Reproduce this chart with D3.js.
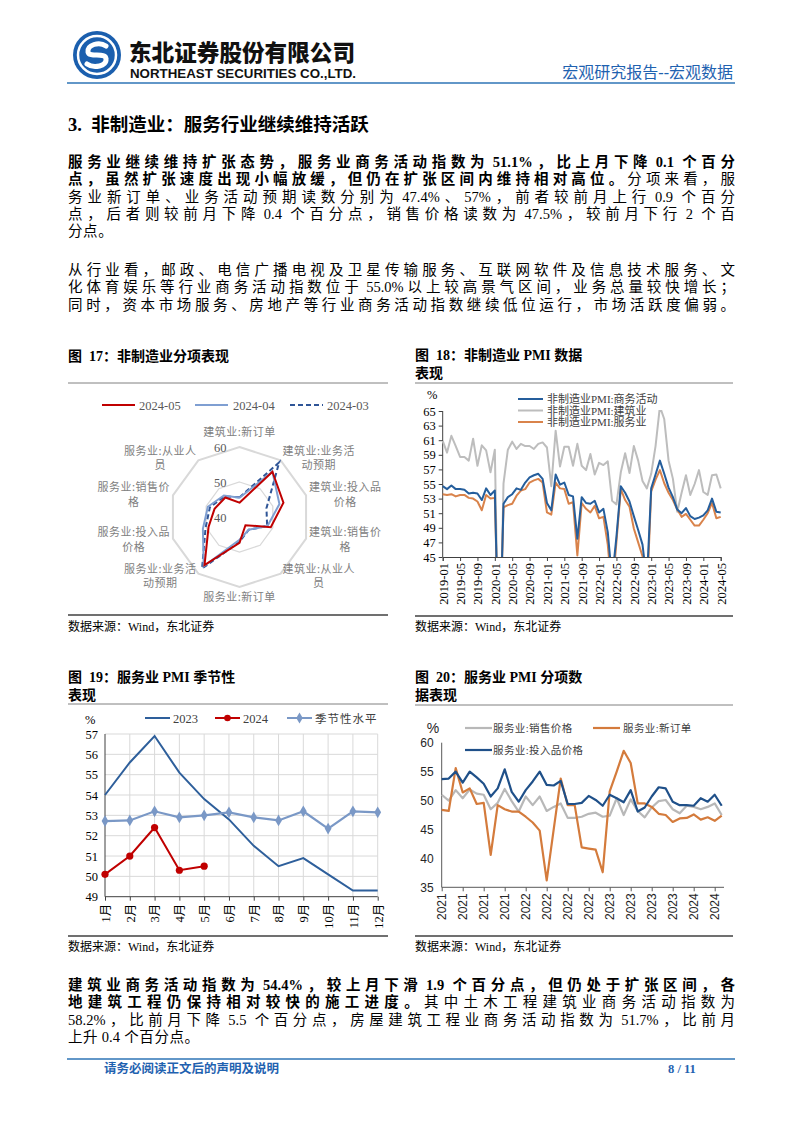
<!DOCTYPE html>
<html><head><meta charset="utf-8">
<script src="https://cdn.jsdelivr.net/npm/d3@7"></script>
<style>body{margin:0;background:#fff}svg{display:block}text{white-space:pre}</style>
</head><body>
<script>
// ================= DATA =================
// Fig 17 radar
const radarAxes = ["建筑业:新订单","建筑业:业务活动预期","建筑业:投入品价格","建筑业:销售价格","建筑业:从业人员","服务业:新订单","服务业:业务活动预期","服务业:投入品价格","服务业:销售价格","服务业:从业人员"];
const radarMay = [44.1,56.0,53.2,49.4,42.9,47.4,57.0,49.3,47.5,46.9];
const radarApr = [45.5,56.0,52.0,48.4,44.5,46.5,57.4,51.0,49.5,47.6];
const radarMar = [45.6,59.3,48.1,48.3,44.5,47.1,58.2,50.2,48.9,47.3];
const radarSeries = ["2024-05","2024-04","2024-03"];
const radarTicks = [40,50,60];
// Fig 18
const ticks18 = ["2019-01","2019-05","2019-09","2020-01","2020-05","2020-09","2021-01","2021-05","2021-09","2022-01","2022-05","2022-09","2023-01","2023-05","2023-09","2024-01","2024-05"];
const nonMfgBiz = [54.7,54.3,54.8,54.3,54.3,54.2,53.7,53.8,53.7,52.8,54.4,53.5,
 54.1,29.6,52.3,53.2,53.6,54.4,54.2,55.2,55.9,56.2,56.4,55.7,
 52.4,51.4,56.3,54.9,55.2,53.5,53.3,47.5,53.2,52.4,52.3,52.7,
 51.1,51.6,48.4,41.9,47.8,54.7,53.8,52.6,50.6,48.7,46.7,41.6,
 54.4,56.3,58.2,56.4,54.5,53.2,51.5,51.0,51.7,50.6,50.2,50.4,
 50.7,51.4,53.0,51.2,51.1];
const nonMfgCons = [60.9,59.3,61.6,60.2,58.7,58.7,58.2,61.2,57.5,60.3,59.6,56.6,
 59.7,26.6,55.1,59.7,60.8,59.8,60.5,60.2,60.2,59.8,60.5,60.7,
 60.0,54.7,62.3,57.4,60.1,60.1,57.5,60.5,57.5,56.9,59.1,56.3,
 57.9,57.6,58.1,52.7,52.2,56.6,59.2,56.5,60.2,58.2,55.4,54.4,
 56.4,60.2,65.6,63.9,58.2,55.7,51.2,53.8,56.2,53.5,55.0,56.9,
 53.9,53.5,56.2,56.3,54.4];
const nonMfgSvc = [53.6,53.5,53.6,53.3,53.5,53.5,53.1,53.0,52.6,51.4,53.5,53.0,
 53.1,30.1,51.8,52.1,52.3,53.4,54.1,54.3,55.2,55.5,55.7,55.2,
 51.1,50.8,55.2,54.4,54.3,52.3,52.5,45.2,52.4,51.6,51.1,52.0,
 50.3,50.5,46.7,40.0,47.1,54.3,52.8,51.9,48.9,47.0,45.1,39.4,
 54.0,55.6,56.9,55.1,53.8,52.8,51.5,50.5,50.9,50.1,49.3,49.3,
 50.1,51.0,52.4,50.3,50.5];
const names18 = ["非制造业PMI:商务活动","非制造业PMI:建筑业","非制造业PMI:服务业"];
// Fig 19
const months19 = ["1月","2月","3月","4月","5月","6月","7月","8月","9月","10月","11月","12月"];
const svc2023 = [54.0,55.6,56.9,55.1,53.8,52.8,51.5,50.5,50.9,50.1,49.3,49.3];
const svc2024 = [50.1,51.0,52.4,50.3,50.5];
const svcSeasonal = [52.72,52.75,53.2,52.9,53.0,53.15,52.9,52.75,53.2,52.35,53.2,53.15];
const names19 = ["2023","2024","季节性水平"];
// Fig 20
const ticks20 = ["2021","2021","2021","2021","2022","2022","2022","2022","2023","2023","2023","2023","2024","2024"];
const svcInput = [53.7,53.8,55.0,53.1,55.0,54.0,52.9,50.7,52.1,55.4,51.5,49.8,
 51.8,53.3,55.0,52.7,52.6,53.4,49.4,49.4,49.6,50.8,50.1,49.1,
 51.0,50.4,49.7,51.8,48.1,48.8,50.7,52.3,52.1,49.8,49.2,49.2,
 49.1,50.4,49.8,51.0,49.1];
const svcSales = [51.0,50.0,51.8,50.4,51.9,51.2,51.0,48.5,49.6,52.0,49.9,48.1,
 50.7,49.2,50.7,48.2,48.9,49.5,47.0,47.0,47.2,47.7,47.9,47.2,
 47.4,50.4,47.5,50.2,48.2,47.1,48.8,49.9,50.1,48.5,47.8,49.1,
 48.9,48.5,48.9,49.5,47.5];
const svcOrders = [48.4,48.2,55.6,51.4,52.1,49.4,49.6,40.6,49.2,48.5,48.1,48.1,
 47.2,46.2,44.8,36.2,45.0,53.8,49.2,49.2,41.9,41.7,41.5,37.6,
 51.6,55.0,58.6,56.5,49.5,49.5,48.9,47.7,47.5,46.3,46.9,47.0,
 47.6,46.7,47.1,46.5,47.4];
const names20 = ["服务业:销售价格","服务业:新订单","服务业:投入品价格"];

// ================= SETUP =================
const W = 802, H = 1133;
const svg = d3.select("body").append("svg").attr("width", W).attr("height", H);
const SERIF = "'Liberation Serif','Noto Sans CJK SC',serif";
const SANS = "'Liberation Sans','Noto Sans CJK SC',sans-serif";
const BLUE_HDR = "#1f62b0";

function txt(g, x, y, s, o = {}) {
  const t = g.append("text").attr("x", x).attr("y", y)
    .attr("font-family", o.font || SERIF).attr("font-size", o.size || 13)
    .attr("fill", o.fill || "#000").attr("text-anchor", o.anchor || "start");
  if (o.weight) t.attr("font-weight", o.weight);
  if (o.ls) t.attr("letter-spacing", o.ls);
  t.text(s);
  if (o.len) t.attr("textLength", o.len).attr("lengthAdjust", "spacingAndGlyphs");
  return t;
}
function hline(x1, x2, y, c, w) {
  svg.append("line").attr("x1", x1).attr("x2", x2).attr("y1", y).attr("y2", y).attr("stroke", c).attr("stroke-width", w);
}

// ================= HEADER =================
const logo = svg.append("g").attr("transform", "translate(97,55)");
logo.append("circle").attr("r", 24).attr("fill", "#1b5fae");
logo.append("circle").attr("r", 19).attr("fill", "none").attr("stroke", "#fff").attr("stroke-width", 2.5);
logo.append("path").attr("d", "M9,-9 C2,-14 -10,-10 -9,-3 C-8,3 9,-3 9,4 C10,11 -3,14 -10,9")
  .attr("fill", "none").attr("stroke", "#fff").attr("stroke-width", 5).attr("stroke-linecap", "round");
txt(svg, 129, 61, "东北证券股份有限公司", {font: "'Noto Sans CJK SC',sans-serif", size: 23, weight: 900, len: 226, fill: "#111"});
txt(svg, 130, 78, "NORTHEAST SECURITIES CO.,LTD.", {font: "'Liberation Sans',sans-serif", size: 12, weight: "bold", len: 226, fill: "#111"});
txt(svg, 733, 78, "宏观研究报告--宏观数据", {font: SERIF, size: 16, fill: BLUE_HDR, anchor: "end"});
hline(67, 735, 83, "#2e75b6", 1.6);

// ================= TEXT =================
txt(svg, 68, 131, "3.  非制造业：服务行业继续维持活跃", {size: 18.5, weight: "bold"});
const TW = 667, TX = 68, FS = 14.5;
const p1 = [
  [{t:"服务业继续维持扩张态势，服务业商务活动指数为 51.1%，比上月下降 0.1 个百分", b:1}],
  [{t:"点，虽然扩张速度出现小幅放缓，但仍在扩张区间内维持相对高位。", b:1}, {t:"分项来看，服"}],
  [{t:"务业新订单、业务活动预期读数分别为 47.4%、57%，前者较前月上行 0.9 个百分"}],
  [{t:"点，后者则较前月下降 0.4 个百分点，销售价格读数为 47.5%，较前月下行 2 个百"}],
  [{t:"分点。"}]
];
const p2 = [
  [{t:"从行业看，邮政、电信广播电视及卫星传输服务、互联网软件及信息技术服务、文"}],
  [{t:"化体育娱乐等行业商务活动指数位于 55.0%以上较高景气区间，业务总量较快增长；"}],
  [{t:"同时，资本市场服务、房地产等行业商务活动指数继续低位运行，市场活跃度偏弱。"}]
];
const p3 = [
  [{t:"建筑业商务活动指数为 54.4%，较上月下滑 1.9 个百分点，但仍处于扩张区间，各", b:1}],
  [{t:"地建筑工程仍保持相对较快的施工进度。", b:1}, {t:"其中土木工程建筑业商务活动指数为"}],
  [{t:"58.2%，比前月下降 5.5 个百分点，房屋建筑工程业商务活动指数为 51.7%，比前月"}],
  [{t:"上升 0.4 个百分点。"}]
];
function line(y, parts, justify) {
  const t = svg.append("text").attr("y", y).attr("font-family", SERIF).attr("font-size", FS).attr("fill", "#000");
  const toks = [];
  parts.forEach(p => (p.t.match(/[\x20-\x7E]+|[^\x20-\x7E]/g)).forEach(s => toks.push({s, b: p.b})));
  const spans = toks.map(k => t.append("tspan").attr("font-weight", k.b ? "bold" : "normal").text(k.s));
  const widths = spans.map(s => s.node().getComputedTextLength());
  const gap = justify ? (TW - d3.sum(widths)) / (toks.length - 1) : 0.6;
  let x = TX;
  spans.forEach((s, i) => { s.attr("x", x); x += widths[i] + gap; });
}
function para(lines, y0, lh) {
  lines.forEach((l, i) => line(y0 + i * lh, l, !(i === lines.length - 1 && l.map(d => d.t).join("").length < 30)));
}
para(p1, 167, 17.3);
para(p2, 275, 17.3);
para(p3, 990, 17.3);

// ================= FIG 17 =================
txt(svg, 68, 361, "图  17：非制造业分项表现", {size: 14, weight: "bold"});
hline(68, 388, 383, "#808080", 1);
hline(68, 388, 615, "#404040", 1.3);
txt(svg, 68, 631, "数据来源：Wind，东北证券", {size: 12});
const radarColors = ["#c00000", "#7f9fd2", "#2f5597"];
const radarDash = [null, null, "5,3"];
const lg17 = svg.append("g");
[[102,139],[195,233],[290,327]].forEach((p, i) => {
  lg17.append("line").attr("x1", p[0]).attr("x2", p[0] + 33).attr("y1", 405).attr("y2", 405)
    .attr("stroke", radarColors[i]).attr("stroke-width", 2.2).attr("stroke-dasharray", radarDash[i]);
  txt(lg17, p[1], 409.5, radarSeries[i], {size: 12.5, fill: "#595959"});
});
const rc = {cx: 239.5, cy: 517};
const rScale = d3.scaleLinear().domain([40, 60]).range([0, 70]);
const ang = i => i * 2 * Math.PI / radarAxes.length;
const g17 = svg.append("g").attr("transform", `translate(${rc.cx},${rc.cy})`);
[50, 60].forEach(v => {
  g17.append("path")
    .attr("d", d3.lineRadial().angle((d, i) => ang(i)).radius(() => rScale(v)).curve(d3.curveLinearClosed)(radarAxes))
    .attr("fill", "none").attr("stroke", "#d9d9d9").attr("stroke-width", v === 60 ? 2 : 1.3);
});
radarTicks.forEach(v => txt(g17, -13, -rScale(v) + 5, String(v), {size: 12.5, fill: "#595959", anchor: "end"}));
const radarLine = d3.lineRadial().angle((d, i) => ang(i)).radius(d => rScale(d)).curve(d3.curveLinearClosed);
[radarMar, radarApr, radarMay].forEach((s, k) => {
  const i = 2 - k;
  g17.append("path").attr("d", radarLine(s)).attr("fill", "none")
    .attr("stroke", radarColors[i]).attr("stroke-width", 2).attr("stroke-dasharray", radarDash[i]);
});
radarAxes.forEach((lab, i) => {
  const a = ang(i), sx = Math.sin(a), cy = -Math.cos(a);
  const lines = lab.length > 7 ? [lab.slice(0, 7), lab.slice(7)] : [lab];
  const r = 73;
  const px = r * sx, py = r * cy;
  const lg = g17.append("g");
  const ts = lines.map((l, j) => txt(lg, 0, j * 14.5, l, {font: "'Noto Sans CJK SC',sans-serif", size: 11, fill: "#808080", anchor: "middle", ls: 0.5}));
  const w = d3.max(ts, t => t.node().getComputedTextLength());
  const hB = (lines.length - 1) * 14.5;
  let bx, by;
  if (Math.abs(sx) < 0.1) { bx = px; by = cy < 0 ? py - 8 - hB : py + 11; }
  else { bx = sx > 0 ? px + w / 2 : px - w / 2; by = py - hB / 2 + 4; }
  lg.attr("transform", `translate(${bx},${by})`);
});

// ================= FIG 18 =================
txt(svg, 415, 360, "图  18：非制造业 PMI 数据", {size: 14, weight: "bold"});
txt(svg, 415, 378, "表现", {size: 14, weight: "bold"});
hline(415, 733, 383, "#808080", 1);
hline(415, 733, 616, "#404040", 1.3);
txt(svg, 415, 631, "数据来源：Wind，东北证券", {size: 12});
const months18 = d3.timeMonths(new Date(2019, 0, 1), new Date(2024, 5, 1)).map(d3.timeFormat("%Y-%m"));
const x18 = d3.scalePoint().domain(months18).range([442.7, 720.7]);
const y18 = d3.scaleLinear().domain([45, 65]).range([557, 411]);
const g18 = svg.append("g");
g18.append("clipPath").attr("id", "clip18").append("rect").attr("x", 442).attr("y", 410).attr("width", 282).attr("height", 147);
const ax18y = g18.append("g").attr("transform", "translate(442.7,0)")
  .call(d3.axisLeft(y18).tickValues(d3.range(45, 66, 2)).tickSize(4).tickPadding(3));
const ax18x = g18.append("g").attr("transform", "translate(0,557)")
  .call(d3.axisBottom(x18).tickValues(ticks18).tickSize(4));
ax18x.selectAll("text").attr("transform", "rotate(-90)").attr("x", -6).attr("y", 0).attr("dy", "0.35em").style("text-anchor", "end");
[ax18y, ax18x].forEach(a => {
  a.selectAll("text").attr("font-family", SERIF).attr("font-size", 12.5).attr("fill", "#000");
  a.selectAll("line,path").attr("stroke", "#404040");
});
ax18y.selectAll(".domain").attr("d", "M0,411V557");
txt(g18, 427, 399, "%", {size: 12.5});
const c18 = ["#255e9c", "#bdbdbd", "#d9834b"];
const s18 = [nonMfgBiz, nonMfgCons, nonMfgSvc];
const line18 = d3.line().x((d, i) => x18(months18[i])).y(d => y18(d));
[1, 2, 0].forEach(k => g18.append("path").attr("d", line18(s18[k])).attr("clip-path", "url(#clip18)")
  .attr("fill", "none").attr("stroke", c18[k]).attr("stroke-width", 2).attr("stroke-linejoin", "round"));
names18.forEach((n, i) => {
  const y = 399 + i * 11.5;
  g18.append("line").attr("x1", 518).attr("x2", 543).attr("y1", y).attr("y2", y).attr("stroke", c18[i]).attr("stroke-width", 2);
  txt(g18, 547, y + 4, n, {size: 11, fill: "#404040"});
});

// ================= FIG 19 =================
txt(svg, 68, 682, "图  19：服务业 PMI 季节性", {size: 14, weight: "bold"});
txt(svg, 68, 700, "表现", {size: 14, weight: "bold"});
hline(68, 388, 704, "#808080", 1);
hline(68, 388, 936, "#404040", 1.3);
txt(svg, 68, 951, "数据来源：Wind，东北证券", {size: 12});
const x19 = d3.scalePoint().domain(months19).range([105, 377.7]);
const y19 = d3.scaleLinear().domain([49, 57]).range([896.7, 734]);
const g19 = svg.append("g");
g19.selectAll(".hg").data(d3.range(50, 58)).enter().append("line")
  .attr("x1", 105).attr("x2", 377.7).attr("y1", d => y19(d)).attr("y2", d => y19(d)).attr("stroke", "#d9d9d9");
g19.selectAll(".vg").data(months19.slice(1)).enter().append("line")
  .attr("x1", d => x19(d)).attr("x2", d => x19(d)).attr("y1", 734).attr("y2", 896.7).attr("stroke", "#d9d9d9");
const ax19y = g19.append("g").attr("transform", "translate(105,0)")
  .call(d3.axisLeft(y19).tickValues(d3.range(49, 58)).tickSize(0).tickPadding(7));
const ax19x = g19.append("g").attr("transform", "translate(0,896.7)")
  .call(d3.axisBottom(x19).tickSize(4));
ax19x.selectAll("text").attr("transform", "rotate(-90)").attr("x", -7).attr("y", 0).attr("dy", "0.35em").style("text-anchor", "end");
[ax19y, ax19x].forEach(a => {
  a.selectAll("text").attr("font-family", SERIF).attr("font-size", 12.5).attr("fill", "#000");
  a.selectAll("line,path").attr("stroke", "#404040");
});
ax19x.select(".domain").attr("d", "M105,0H377.7");
ax19y.select(".domain").attr("d", "M0,734V896.7");
txt(g19, 85, 724, "%", {size: 12.5});
const c19 = ["#2e5f9b", "#c00000", "#7a98c6"];
const line19 = d3.line().x((d, i) => x19(months19[i])).y(d => y19(d));
g19.append("path").attr("d", line19(svc2023)).attr("fill", "none").attr("stroke", c19[0]).attr("stroke-width", 2);
g19.append("path").attr("d", line19(svcSeasonal)).attr("fill", "none").attr("stroke", c19[2]).attr("stroke-width", 2.2);
g19.selectAll(".dm").data(svcSeasonal).enter().append("path")
  .attr("d", d3.symbol(d3.symbolDiamond, 40))
  .attr("transform", (d, i) => `translate(${x19(months19[i])},${y19(d)})`).attr("fill", c19[2]);
g19.append("path").attr("d", line19(svc2024)).attr("fill", "none").attr("stroke", c19[1]).attr("stroke-width", 2);
g19.selectAll(".dt").data(svc2024).enter().append("circle")
  .attr("cx", (d, i) => x19(months19[i])).attr("cy", d => y19(d)).attr("r", 3.6).attr("fill", c19[1]);
[[145,173],[215,243],[287,315]].forEach((p, i) => {
  g19.append("line").attr("x1", p[0]).attr("x2", p[0] + 25).attr("y1", 718).attr("y2", 718).attr("stroke", c19[i]).attr("stroke-width", 2);
  if (i === 1) g19.append("circle").attr("cx", p[0] + 12.5).attr("cy", 718).attr("r", 3.3).attr("fill", c19[1]);
  if (i === 2) g19.append("path").attr("d", d3.symbol(d3.symbolDiamond, 36)).attr("transform", `translate(${p[0] + 12.5},718)`).attr("fill", c19[2]);
  txt(g19, p[1], 722.5, names19[i], {size: i === 2 ? 11.5 : 12.5, fill: "#404040", ls: i === 2 ? 1 : 0});
});

// ================= FIG 20 =================
txt(svg, 415, 682, "图  20：服务业 PMI 分项数", {size: 14, weight: "bold"});
txt(svg, 415, 700, "据表现", {size: 14, weight: "bold"});
hline(415, 733, 705, "#808080", 1);
hline(415, 733, 936, "#404040", 1.3);
txt(svg, 415, 951, "数据来源：Wind，东北证券", {size: 12});
const months20 = d3.timeMonths(new Date(2021, 0, 1), new Date(2024, 5, 1)).map(d3.timeFormat("%Y-%m"));
const x20 = d3.scalePoint().domain(months20).range([441.7, 721.7]);
const y20 = d3.scaleLinear().domain([35, 60]).range([887.3, 742.7]);
const g20 = svg.append("g");
const tickMonths20 = months20.filter((d, i) => i % 3 === 0);
const ax20y = g20.append("g").attr("transform", "translate(441.7,0)")
  .call(d3.axisLeft(y20).tickValues(d3.range(35, 61, 5)).tickSize(0).tickPadding(8));
const ax20x = g20.append("g").attr("transform", "translate(0,887.3)")
  .call(d3.axisBottom(x20).tickValues(tickMonths20).tickSize(4).tickFormat((d, i) => ticks20[i]));
ax20x.selectAll("text").attr("transform", "rotate(-90)").attr("x", -6).attr("y", 0).attr("dy", "0.35em").style("text-anchor", "end");
[ax20y, ax20x].forEach(a => {
  a.selectAll("text").attr("font-family", SANS).attr("font-size", 12).attr("fill", "#262626");
  a.selectAll("line,path").attr("stroke", "#595959");
});
ax20x.select(".domain").attr("d", "M441.7,0H724");
ax20y.select(".domain").attr("d", "M0,742.7V887.3");
txt(g20, 433, 733, "%", {font: SANS, size: 14, fill: "#262626", anchor: "middle"});
const c20 = ["#b8b8b8", "#d47b3c", "#1f5089"];
const s20 = [svcSales, svcOrders, svcInput];
const line20 = d3.line().x((d, i) => x20(months20[i])).y(d => y20(d));
s20.forEach((s, k) => g20.append("path").attr("d", line20(s)).attr("fill", "none")
  .attr("stroke", c20[k]).attr("stroke-width", 2.2).attr("stroke-linejoin", "round"));
[[465,728,493],[593,728,623],[465,750,493]].forEach((p, i) => {
  g20.append("line").attr("x1", p[0]).attr("x2", p[0] + 27).attr("y1", p[1]).attr("y2", p[1]).attr("stroke", c20[i]).attr("stroke-width", 2.2);
  txt(g20, p[2], p[1] + 4, names20[i], {size: 10.5, fill: "#404040", ls: 0.4});
});

// ================= FOOTER =================
hline(67, 735, 1059, "#2e75b6", 1.6);
txt(svg, 104, 1073, "请务必阅读正文后的声明及说明", {size: 12.5, weight: "bold", fill: BLUE_HDR});
txt(svg, 668, 1073, "8 / 11", {size: 12.5, weight: "bold", fill: BLUE_HDR});
</script>
</body></html>
